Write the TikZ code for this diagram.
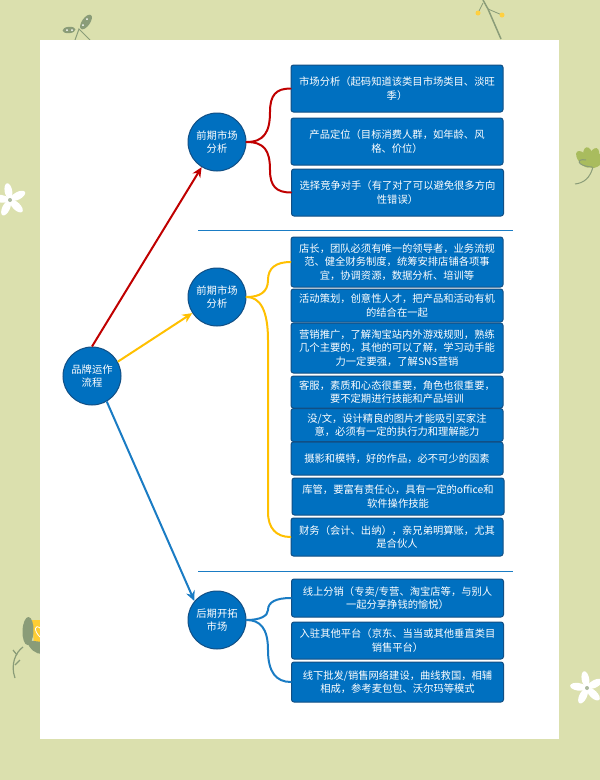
\documentclass[tikz,border=0pt]{standalone}
\usepackage{fontspec}
\usetikzlibrary{arrows.meta}
\setmainfont{Noto Sans CJK SC}
\definecolor{pageGreen}{HTML}{DBE0AE}
\definecolor{boxBlue}{HTML}{0070C0}
\definecolor{boxEdge}{HTML}{114F85}
\definecolor{lineRed}{HTML}{C00000}
\definecolor{lineYellow}{HTML}{FFC000}
\definecolor{lineBlue}{HTML}{1A7CC4}
\definecolor{leafDark}{HTML}{8A9C78}
\definecolor{leafLight}{HTML}{A9BC5E}
\begin{document}
\begin{tikzpicture}[x=1pt, y=-1pt, font=\fontsize{10.3}{13.2}\selectfont,
StepBox/.style={draw=boxEdge, line width=1pt, fill=boxBlue, text=white, rounded corners=2.5pt, inner sep=0pt, minimum width=212pt, text width=204pt, align=center},
StepDot/.style={circle, draw=boxEdge, line width=1pt, fill=boxBlue, text=white, inner sep=0pt, minimum size=58pt, align=center},
Branch/.style={line width=2pt, line cap=round},
Arrow/.style={-{Stealth[length=10pt, width=9pt]}, line width=2pt},
Rule/.style={lineBlue, line width=1pt}]
\useasboundingbox (0, 0) rectangle (600, 780);
\fill [pageGreen] (0, 0) rectangle (600, 780);
% decorations round the sheet
\draw [leafDark, line width=1pt] (75, 40) -- (79, 29) -- (90, 40);
\fill [leafDark, rotate around={5:(69, 30)}] (69, 30) ellipse [x radius=6.5, y radius=3.2];
\fill [leafDark, rotate around={55:(86, 22)}] (86, 22) ellipse [x radius=8.5, y radius=4];
\foreach \dotx/\doty in {67/30, 72/30, 83/25, 87/19}
  \fill [white] (\dotx, \doty) circle [radius=1];
\draw [leafDark, line width=1.5pt] (483, 0) -- (488, 9) -- (501, 39);
\draw [leafDark, line width=0.8pt] (478, 13) -- (483, 3) (488, 9) -- (502, 15);
\fill [lineYellow!75] (478, 13) circle [radius=2.5] (502, 15) circle [radius=2.5];
\foreach \ang in {-50, -20, 10, 40}
  \fill [leafLight, rotate around={\ang:(590, 167)}] (590, 157) ellipse [x radius=5, y radius=10];
\draw [leafDark, line width=1pt] (586, 160) .. controls (576, 158) and (576, 166) .. (592, 167);
\draw [leafDark, line width=1pt] (593, 167) .. controls (590, 178) and (584, 183) .. (575, 184);
\foreach \flowerx/\flowery in {10/200, 587/688} {
  \foreach \ang in {10, 82, 154, 226, 298}
    \fill [white, rotate around={\ang:(\flowerx, \flowery)}] (\flowerx, \flowery-9) ellipse [x radius=3.8, y radius=8];
  \fill [leafDark!70] (\flowerx, \flowery) circle [radius=2];
}
\fill [lineYellow!80] (32, 620) -- (42, 620) -- (42, 646) -- (34, 644) -- cycle;
\draw [white, line width=0.8pt] (40, 637) .. controls (33, 630) and (35, 624) .. (40, 628);
\fill [leafDark, rotate around={88:(28, 631)}] (28, 631) ellipse [x radius=14, y radius=5.5];
\fill [leafDark] (26, 640) .. controls (30, 650) and (36, 654) .. (42, 654) -- (42, 642) -- cycle;
\draw [leafDark, line width=1.2pt] (23, 647) .. controls (16, 652) and (10, 664) .. (15, 678);
\draw [leafDark, line width=1.2pt] (13, 650) -- (17, 655) (15, 665) -- (20, 660);
% the sheet
\fill [white] (40, 40) rectangle (559, 739);
\draw [Rule] (198, 230) -- (513, 230);
\draw [Rule] (198, 571) -- (513, 571);
% centre and second level
\node [StepDot] (root) at (92, 376) {品牌运作\\流程};
\node [StepDot] (early) at (217, 142) {前期市场\\分析};
\node [StepDot] (team) at (217, 297) {前期市场\\分析};
\node [StepDot] (late) at (217, 620) {后期开拓\\市场};
\draw [Arrow, lineRed] (root.north) -- (early);
\draw [Arrow, lineYellow] (root.29) -- (team);
\draw [Arrow, lineBlue] (root.-60) -- (late.140);
% third level
\foreach \name/\cx/\cy/\high/\label in {
  {market/397/88.5/47/{市场分析（起码知道该类目市场类目、淡旺\\季）}},
  {position/397/141.5/47/{产品定位（目标消费人群，如年龄、风\\格、价位）}},
  {rival/397.5/192.5/47/{选择竞争对手（有了对了可以避免很多方向\\性错误）}},
  {owner/397/262/50/{店长，团队必须有唯一的领导者，业务流规\\范、健全财务制度，统筹安排店铺各项事\\宜，协调资源，数据分析、培训等}},
  {events/397/305.5/33/{活动策划，创意性人才，把产品和活动有机\\的结合在一起}},
  {promo/397/348/50/{营销推广，了解淘宝站内外游戏规则，熟练\\几个主要的，其他的可以了解，学习动手能\\力一定要强，了解SNS营销}},
  {service/397/392/32/{客服，素质和心态很重要，角色也很重要，\\要不定期进行技能和产品培训}},
  {design/397/425/33/{没/文，设计精良的图片才能吸引买家注\\意，必须有一定的执行力和理解能力}},
  {photo/397/458.5/33/{摄影和模特，好的作品，必不可少的因素}},
  {stock/398/496.5/37/{库管，要富有责任心，具有一定的office和\\软件操作技能}},
  {finance/397/537/38/{财务（会计、出纳），亲兄弟明算账，尤其\\是合伙人}},
  {resale/397.5/598/38/{线上分销（专卖/专营、淘宝店等，与别人\\一起分享挣钱的愉悦）}},
  {platform/397.5/640.5/37/{入驻其他平台（京东、当当或其他垂直类目\\销售平台）}},
  {offline/397.5/682/40/{线下批发/销售网络建设，曲线救国，相辅\\相成，参考麦包包、沃尔玛等模式}}%
} {
  \node [StepBox, minimum height=\high pt] (\name) at (\cx, \cy) {\label};
}
\draw [Branch, lineRed] (early.east) .. controls (264, 142) and (270, 132) .. (270, 112) .. controls (270, 95) and (276, 88.5) .. (market.west);
\draw [Branch, lineRed] (early.east) .. controls (264, 142) and (270, 150) .. (270, 170) .. controls (270, 186) and (276, 192.5) .. (rival.west);
\draw [Branch, lineYellow] (team.east) .. controls (260, 297) and (268, 292) .. (268, 280) .. controls (268, 268) and (276, 262) .. (owner.west);
\draw [Branch, lineYellow] (team.east) .. controls (260, 297) and (268, 310) .. (268, 340) -- (268, 512) .. controls (268, 528) and (276, 537) .. (finance.west);
\draw [Branch, lineBlue] (late.east) .. controls (260, 620) and (268, 616) .. (268, 610) .. controls (268, 602) and (276, 598) .. (resale.west);
\draw [Branch, lineBlue] (late.east) .. controls (260, 620) and (268, 628) .. (268, 650) .. controls (268, 672) and (276, 682) .. (offline.west);
\end{tikzpicture}
\end{document}
